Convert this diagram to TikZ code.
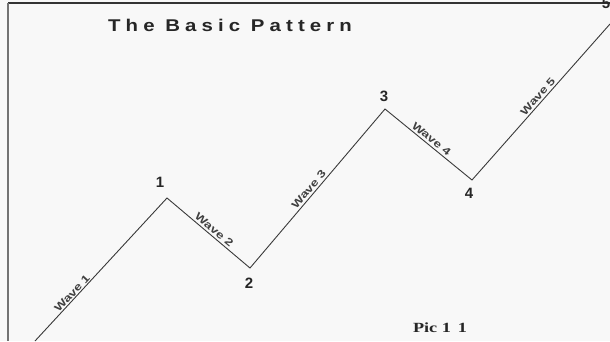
\documentclass[tikz,border=0pt]{standalone}
\usepackage{fontspec}
\setmainfont{Liberation Sans}
\newfontfamily\titlefont[LetterSpace=30,FakeStretch=1.2]{Liberation Sans}
\newfontfamily\wavefont[FakeStretch=1.3]{Liberation Sans}
\newfontfamily\picfont[FakeStretch=1.3]{Liberation Serif}
\definecolor{bgc}{HTML}{F8F8F8}
\definecolor{linec}{HTML}{3A3A3A}
\tikzset{
  wave/.style={draw=linec, line width=0.9pt, line join=miter},
  wavelabel/.style={sloped, above, inner sep=2pt, font=\wavefont\bfseries\fontsize{10.5}{10.5}\selectfont, text=black!75},
  numlabel/.style={font=\bfseries\fontsize{15}{15}\selectfont, text=black!85, inner sep=0pt}
}
\begin{document}
\begin{tikzpicture}[x=1pt,y=-1pt]
\useasboundingbox (0,0) rectangle (610,341);
\fill[bgc] (0,0) rectangle (610,341);
% frame
\draw[black!80, line width=1.2pt] (8,3) -- (610,3);
\draw[black!55, line width=2pt] (8,3) -- (8,341);
% points
\coordinate (P0) at (35,341);
\coordinate (P1) at (167,198);
\coordinate (P2) at (250,268);
\coordinate (P3) at (385,109);
\coordinate (P4) at (472,180);
\coordinate (P5) at (610,24);
\draw[wave] (P0) -- node[wavelabel, pos=0.31, inner sep=1pt] {Wave 1} (P1)
  -- node[wavelabel, pos=0.52] {Wave 2} (P2)
  -- node[wavelabel, pos=0.47] {Wave 3} (P3)
  -- node[wavelabel, pos=0.49] {Wave 4} (P4)
  -- node[wavelabel, pos=0.51] {Wave 5} (P5);
% numbers
\node[numlabel] (n1) at (160,182) {1};
\node[numlabel] (n2) at (249,283) {2};
\node[numlabel] (n3) at (384,96) {3};
\node[numlabel] (n4) at (469,193) {4};
\node[numlabel] (n5) at (606,3) {5};
% title
\node[font=\titlefont\bfseries\fontsize{17}{17}\selectfont, text=black!85, inner sep=0pt] (title) at (230,25) {The Basic Pattern};
\node[font=\picfont\bfseries\fontsize{14}{14}\selectfont, text=black!85, inner sep=0pt] (pic) at (440,328) {Pic 1\hspace{0.5em}1};
\end{tikzpicture}
\end{document}
